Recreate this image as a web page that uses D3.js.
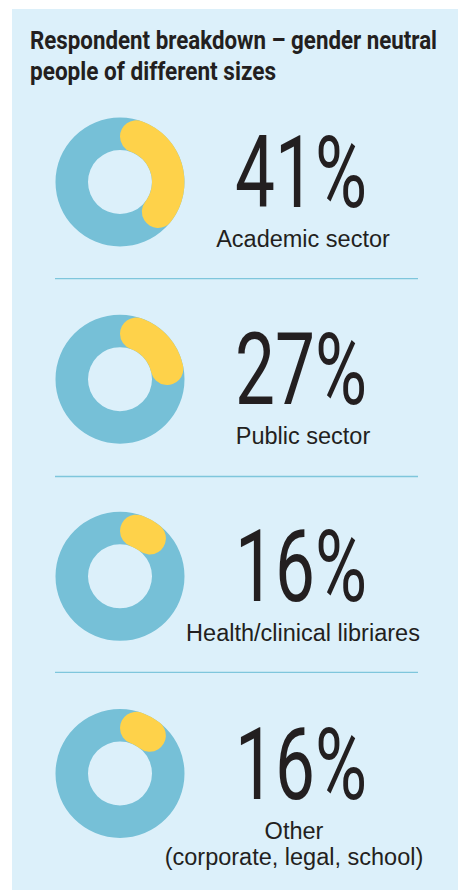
<!DOCTYPE html>
<html>
<head>
<meta charset="utf-8">
<script src="https://cdn.jsdelivr.net/npm/d3@7"></script>
<style>
  html, body { margin: 0; padding: 0; background: #ffffff; }
  svg { display: block; }
</style>
</head>
<body>
<div id="chart"></div>
<script>
// ---- Data ----
const titleLines = ["Respondent breakdown \u2013 gender neutral", "people of different sizes"];
const categories = ["Academic sector", "Public sector", "Health/clinical libriares", "Other"];
const categorySubLabels = ["", "", "", "(corporate, legal, school)"];
const values = [41, 27, 16, 16];

// ---- Layout ----
const W = 458, H = 890;
const svg = d3.select("#chart").append("svg").attr("width", W).attr("height", H);

const bg = "#dcf0fa", ringColor = "#76c0d7", accent = "#fed24a", textColor = "#231f20", ruleColor = "#7ec6dc";

svg.append("rect").attr("x", 12).attr("y", 9).attr("width", W - 12).attr("height", H - 9).attr("fill", bg);

// Title
const title = svg.append("g").attr("class", "title");
title.selectAll("text").data(titleLines).join("text")
  .attr("x", 30)
  .attr("y", (d, i) => 49 + i * 31)
  .attr("font-family", "Roboto, 'DejaVu Sans', sans-serif")
  .attr("font-weight", 700)
  .attr("font-size", 26.5)
  .attr("fill", textColor)
  .attr("textLength", (d, i) => i === 0 ? 407 : 246)
  .attr("lengthAdjust", "spacingAndGlyphs")
  .text(d => d);

// Rows
const rowY = d3.scaleLinear().domain([0, 3]).range([182, 773.5]);
const angle = d3.scaleLinear().domain([0, 100]).range([0, 2 * Math.PI]);
const outerR = 64.5, innerR = 32;
const ringArc = d3.arc().innerRadius(innerR).outerRadius(outerR).startAngle(0).endAngle(2 * Math.PI);
const valArc = d3.arc().innerRadius(innerR).outerRadius(outerR)
  .cornerRadius((outerR - innerR) / 2)
  .startAngle(0).endAngle(d => angle(d));

const rows = svg.selectAll("g.row").data(values).join("g")
  .attr("class", "row")
  .attr("transform", (d, i) => `translate(0,${rowY(i)})`);

rows.append("path")
  .attr("transform", "translate(120,0)")
  .attr("d", ringArc())
  .attr("fill", ringColor);

rows.append("path")
  .attr("transform", "translate(120,0)")
  .attr("d", d => valArc(d))
  .attr("fill", accent);

rows.append("text")
  .attr("x", 301)
  .attr("y", 25)
  .attr("text-anchor", "middle")
  .attr("font-family", "Roboto, 'DejaVu Sans', sans-serif")
  .attr("font-weight", 400)
  .attr("font-size", 100)
  .attr("fill", textColor)
  .attr("textLength", 132)
  .attr("lengthAdjust", "spacingAndGlyphs")
  .text(d => d + "%");

rows.append("text")
  .attr("x", (d, i) => i === 3 ? 294 : 303)
  .attr("y", 65)
  .attr("text-anchor", "middle")
  .attr("font-family", "'Liberation Sans', Arial, sans-serif")
  .attr("font-size", 23.5)
  .attr("fill", textColor)
  .text((d, i) => categories[i]);

rows.filter((d, i) => categorySubLabels[i] !== "").append("text")
  .attr("x", 294)
  .attr("y", 91.5)
  .attr("text-anchor", "middle")
  .attr("font-family", "'Liberation Sans', Arial, sans-serif")
  .attr("font-size", 23.5)
  .attr("fill", textColor)
  .text((d, i, n) => categorySubLabels[values.indexOf(d) === 3 ? 3 : 3]);

// Separator rules between rows
const sepYs = [278.7, 476.5, 672.3];
svg.selectAll("line.sep").data(sepYs).join("line")
  .attr("class", "sep")
  .attr("x1", 55).attr("x2", 418)
  .attr("y1", d => d).attr("y2", d => d)
  .attr("stroke", ruleColor)
  .attr("stroke-width", 1.3);
</script>
</body>
</html>
